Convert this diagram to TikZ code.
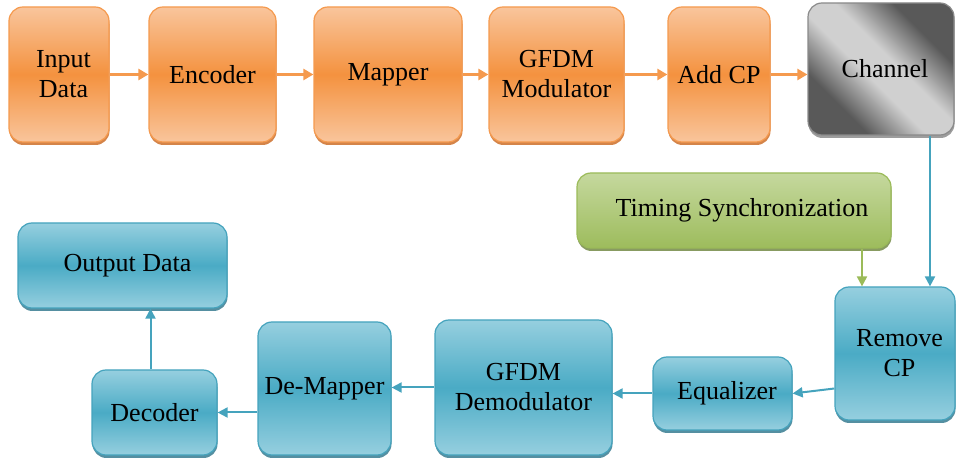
\documentclass[tikz,border=0pt]{standalone}
\usepackage{fontspec}
\setmainfont{Liberation Serif}
\usetikzlibrary{shadows,arrows.meta}

% palette
\definecolor{orEdge}{HTML}{F9C59C}
\definecolor{orMid}{HTML}{F4923F}
\definecolor{orLine}{HTML}{F59A4E}
\definecolor{orShadow}{HTML}{C9651C}
\definecolor{blEdge}{HTML}{96CFDF}
\definecolor{blMid}{HTML}{4AABC5}
\definecolor{blLine}{HTML}{45A3BD}
\definecolor{blShadow}{HTML}{2B7389}
\definecolor{grTop}{HTML}{C5D89E}
\definecolor{grBot}{HTML}{9DBC5C}
\definecolor{grLine}{HTML}{9BBB59}
\definecolor{grShadow}{HTML}{6A823A}
\definecolor{chDark}{HTML}{595959}
\definecolor{chLight}{HTML}{D0D0D0}
\definecolor{chLine}{HTML}{8A8A8A}

% diagonal metallic look of the channel block
\pgfdeclareverticalshading{channelshade}{100bp}{color(0bp)=(chDark); color(30bp)=(chDark); color(45bp)=(chLight); color(55bp)=(chLight); color(70bp)=(chDark); color(100bp)=(chDark)}

\tikzset{
  block/.style={rounded corners=14pt, align=center, inner sep=0pt,
    font=\fontsize{26}{30}\selectfont, text=black, line width=1.2pt},
  orblock/.style={block, draw=orLine, top color=orEdge, bottom color=orEdge,
    middle color=orMid,
    drop shadow={shadow xshift=0.5pt, shadow yshift=-3pt, fill=orShadow, opacity=0.8}},
  blblock/.style={block, draw=blLine, top color=blEdge, bottom color=blEdge,
    middle color=blMid,
    drop shadow={shadow xshift=0.5pt, shadow yshift=-3pt, fill=blShadow, opacity=0.8}},
  grblock/.style={block, draw=grLine, top color=grTop, bottom color=grBot,
    drop shadow={shadow xshift=0.5pt, shadow yshift=-3pt, fill=grShadow, opacity=0.8}},
  chblock/.style={block, draw=chLine, shading=channelshade, shading angle=-45,
    drop shadow={shadow xshift=0.5pt, shadow yshift=-3pt, fill=black!55, opacity=0.7}},
  orarrow/.style={draw=orLine, line width=2.5pt, -{Triangle[length=10pt,width=11pt]}},
  blarrow/.style={draw=blLine, line width=2pt, -{Triangle[length=10pt,width=10pt]}},
  grarrow/.style={draw=grLine, line width=2pt, -{Triangle[length=10pt,width=10pt]}},
}

\begin{document}
\begin{tikzpicture}[x=1pt, y=1pt]
  \useasboundingbox (0,0) rectangle (956,463);

  % transmitter chain
  \node[orblock, minimum width=100pt, minimum height=135pt] (in)  at (59,388.5)    {\hspace*{9pt}Input\\\hspace*{9pt}Data};
  \node[orblock, minimum width=127pt, minimum height=135pt] (enc) at (212.5,388.5) {Encoder};
  \node[orblock, minimum width=148pt, minimum height=135pt] (map) at (388,388.5)   {Mapper};
  \node[orblock, minimum width=135pt, minimum height=135pt] (mod) at (556.5,388.5) {GFDM\\Modulator};
  \node[orblock, minimum width=102pt, minimum height=135pt] (acp) at (719,388.5)   {Add CP};
  \node[chblock, minimum width=146pt, minimum height=132pt] (ch)  at (881,394)     {\hspace*{8pt}Channel};

  % synchronisation
  \node[grblock, minimum width=314pt, minimum height=75pt] (ts) at (734,252.5) {\hspace*{16pt}Timing Synchronization};

  % receiver chain
  \node[blblock, minimum width=120pt, minimum height=133pt] (rcp)   at (895,109.5)   {\hspace*{9pt}Remove\\\hspace*{9pt}CP};
  \node[blblock, minimum width=139pt, minimum height=73pt]  (eq)    at (722.5,69.5)  {\hspace*{9pt}Equalizer};
  \node[blblock, minimum width=177pt, minimum height=135pt] (dem)   at (523.5,75.5)  {GFDM\\Demodulator};
  \node[blblock, minimum width=133pt, minimum height=133pt] (demap) at (324.5,74.5)  {De-Mapper};
  \node[blblock, minimum width=125pt, minimum height=85pt]  (dec)   at (154.5,50.5)  {Decoder};
  \node[blblock, minimum width=209pt, minimum height=85pt]  (out)   at (122.5,197.5) {\hspace*{10pt}Output Data};

  % transmitter connectors
  \draw[orarrow] (in.east)  -- (enc.west);
  \draw[orarrow] (enc.east) -- (map.west);
  \draw[orarrow] (map.east) -- (mod.west);
  \draw[orarrow] (mod.east) -- (acp.west);
  \draw[orarrow] (acp.east) -- (acp.east -| ch.west);

  % channel and timing into CP removal
  \draw[blarrow] ([xshift=35pt]rcp.north |- ch.south) -- ([xshift=35pt]rcp.north);
  \draw[grarrow] ([xshift=-33pt]rcp.north |- ts.south) -- ([xshift=-33pt]rcp.north);

  % receiver connectors
  \draw[blarrow] ([yshift=-35pt]rcp.west) -- (eq.east);
  \draw[blarrow] (eq.west) -- (dem.east |- eq.west);
  \draw[blarrow] (dem.west) -- (demap.east |- dem.west);
  \draw[blarrow] (demap.west |- dec.east) -- (dec.east);
  \draw[blarrow] ([xshift=-4pt]dec.north) -- ([xshift=-4pt]dec.north |- out.south);
\end{tikzpicture}
\end{document}
